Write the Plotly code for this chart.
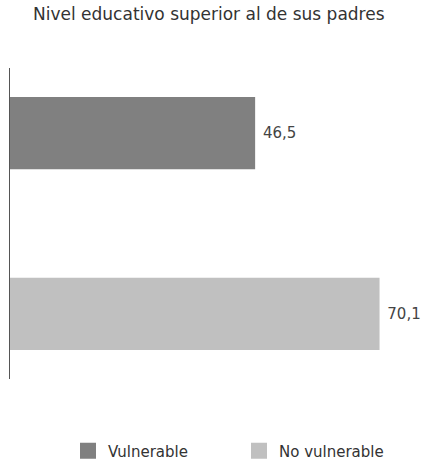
import plotly.graph_objects as go

categories = ["Vulnerable", "No vulnerable"]
values = [46.5, 70.1]
colors = ["#808080", "#c0c0c0"]
title_text = "Nivel educativo superior al de sus padres"

fig = go.Figure()
for cat, val, col in zip(categories, values, colors):
    fig.add_trace(go.Bar(
        y=[cat], x=[val], name=cat, orientation="h",
        marker=dict(color=col, line=dict(width=0)),
        width=0.4,
        text=[f"{val:.1f}".replace(".", ",")],
        texttemplate=" %{text}",
        textposition="outside",
        textfont=dict(size=15, color="#444444", family="DejaVu Sans"),
        cliponaxis=False,
        showlegend=False,
        hoverinfo="skip",
    ))
# legend entries with larger square swatches
for cat, col in zip(categories, colors):
    fig.add_trace(go.Scatter(
        x=[None], y=[None], name=cat, mode="markers",
        marker=dict(symbol="square", size=18, color=col),
        showlegend=True,
    ))

fig.update_layout(
    width=427, height=463,
    margin=dict(l=10, r=0, t=68, b=84),
    paper_bgcolor="white", plot_bgcolor="white",
    barmode="overlay",
    separators=",.",
    font=dict(family="DejaVu Sans", size=15, color="#333333"),
    title=dict(text=title_text, x=33 / 427, xanchor="left", y=1 - 14 / 463, yanchor="middle",
               xref="container", yref="container", font=dict(size=17, color="#333333")),
    showlegend=True,
    legend=dict(orientation="h", x=(68 - 10) / 417, xanchor="left",
                yref="container", y=1 - 451 / 463, yanchor="middle",
                font=dict(size=15, color="#333333"), itemwidth=30, traceorder="normal",
                entrywidth=126, entrywidthmode="pixels"),
    xaxis=dict(range=[0, 79.1], visible=False, showgrid=False, zeroline=False),
    yaxis=dict(range=[1.36, -0.36], showline=True, linecolor="#555555", linewidth=1,
               showticklabels=False, ticks="", showgrid=False, zeroline=False),
)

fig.write_html("out.html", config={"displayModeBar": False},
               post_script="document.body.style.margin='0px';")
